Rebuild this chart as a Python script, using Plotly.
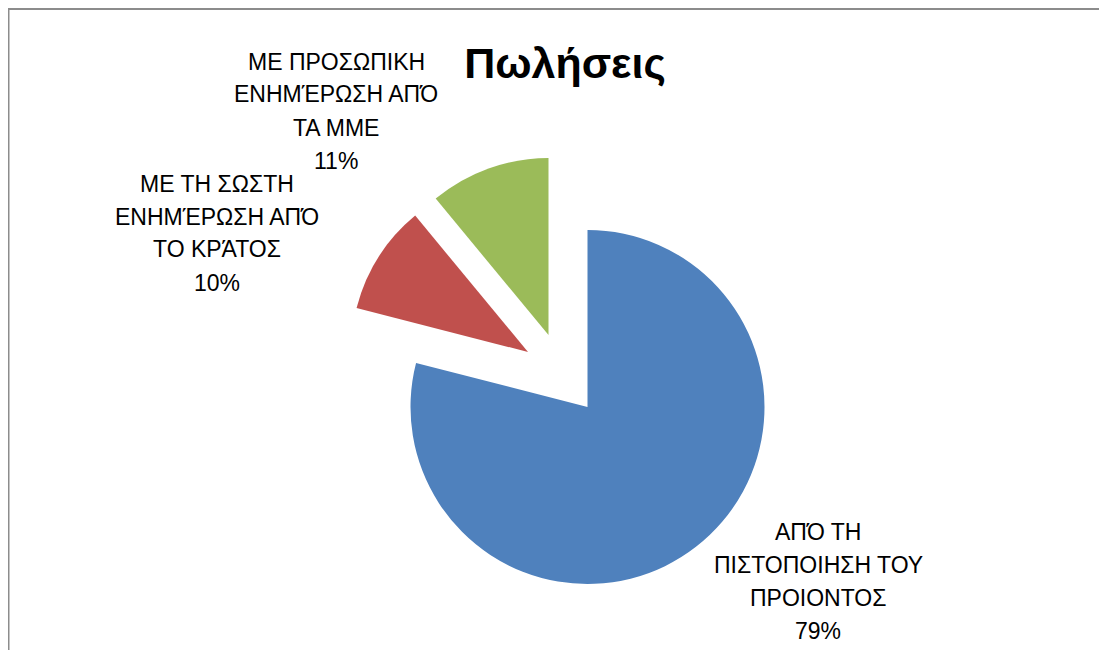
import plotly.graph_objects as go

# ---- data ----
categories = [
    "ΑΠΌ ΤΗ<br>ΠΙΣΤΟΠΟΙΗΣΗ ΤΟΥ<br>ΠΡΟΙΟΝΤΟΣ",
    "ΜΕ ΤΗ ΣΩΣΤΗ<br>ΕΝΗΜΈΡΩΣΗ ΑΠΌ<br>ΤΟ ΚΡΆΤΟΣ",
    "ΜΕ ΠΡΟΣΩΠΙΚΗ<br>ΕΝΗΜΈΡΩΣΗ ΑΠΌ<br>ΤΑ ΜΜΕ",
]
values = [79, 10, 11]
title_text = "Πωλήσεις"

colors = ["#4F81BD", "#C0504D", "#9BBB59"]
OFF = 8  # page body margin
W, H = 1107 - OFF, 650 - OFF
R = 177
# page-pixel centres of each (exploded) slice, and label centres
centres = [(587.5, 407), (528, 352), (548.5, 335)]
label_pos = [(818, 581), (217, 233), (336, 111)]
LINE = 33

FONT = "Liberation Sans, Arial, sans-serif"


def px(x):
    return (x - OFF) / W


def py(y):
    return 1 - (y - OFF) / H


fig = go.Figure()
total = sum(values)
for i, (cx, cy) in enumerate(centres):
    cols = [colors[j] if j == i else "rgba(0,0,0,0)" for j in range(len(values))]
    fig.add_trace(go.Pie(
        labels=categories, values=values, sort=False, direction="clockwise",
        rotation=0, textinfo="none", hoverinfo="label+percent",
        marker=dict(colors=cols, line=dict(width=0)),
        domain=dict(x=[px(cx - R), px(cx + R)],
                    y=[py(cy + R), py(cy - R)]),
        showlegend=False,
    ))

annotations = []
for i, (lx, ly) in enumerate(label_pos):
    pct = round(values[i] / total * 100)
    lines = categories[i].split("<br>") + [f"{pct}%"]
    n = len(lines)
    for k, line in enumerate(lines):
        yy = ly + (k - (n - 1) / 2) * LINE
        annotations.append(dict(
            x=px(lx), y=py(yy), xref="paper", yref="paper",
            text=line, showarrow=False,
            xanchor="center", yanchor="middle", align="center",
            font=dict(family=FONT, size=23, color="#000000"),
        ))

shapes = [
    dict(type="line", xref="paper", yref="paper", x0=0, x1=1,
         y0=py(9), y1=py(9), line=dict(color="#8c8c8c", width=2)),
    dict(type="line", xref="paper", yref="paper", x0=0, x1=0,
         y0=0, y1=py(8), line=dict(color="#8c8c8c", width=3)),
]

fig.update_layout(
    width=W, height=H,
    margin=dict(l=0, r=0, t=0, b=0),
    paper_bgcolor="white", plot_bgcolor="white",
    title=dict(text=f"<b>{title_text}</b>", x=px(565), y=py(63),
               xanchor="center", yanchor="middle",
               font=dict(family=FONT, size=43, color="#000000")),
    annotations=annotations, shapes=shapes,
)

fig.write_html("out.html")
